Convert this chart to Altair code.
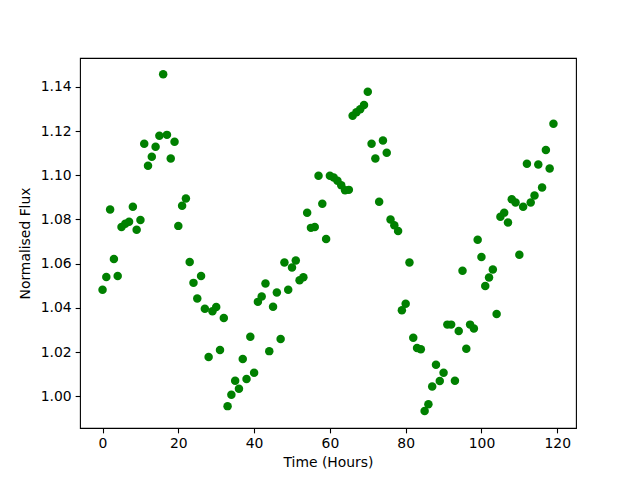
import altair as alt
import pandas as pd

hours = list(range(120))
flux = [
    1.0482, 1.0540, 1.0845, 1.0621, 1.0544, 1.0766, 1.0781, 1.0790, 1.0858, 1.0753,
    1.0798, 1.1143, 1.1043, 1.1084, 1.1129, 1.1179, 1.1457, 1.1183, 1.1076, 1.1152,
    1.0771, 1.0862, 1.0895, 1.0608, 1.0513, 1.0442, 1.0544, 1.0396, 1.0177, 1.0384,
    1.0404, 1.0209, 1.0354, 0.9955, 1.0006, 1.0070, 1.0034, 1.0168, 1.0078, 1.0269,
    1.0106, 1.0427, 1.0451, 1.0510, 1.0204, 1.0405, 1.0469, 1.0259, 1.0605, 1.0482,
    1.0583, 1.0614, 1.0525, 1.0538, 1.0830, 1.0762, 1.0766, 1.0998, 1.0871, 1.0712,
    1.0998, 1.0990, 1.0975, 1.0955, 1.0932, 1.0934, 1.1270, 1.1285, 1.1299, 1.1318,
    1.1378, 1.1143, 1.1076, 1.0880, 1.1158, 1.1102, 1.0800, 1.0774, 1.0748, 1.0389,
    1.0419, 1.0605, 1.0265, 1.0218, 1.0212, 0.9933, 0.9963, 1.0044, 1.0142, 1.0069,
    1.0106, 1.0324, 1.0324, 1.0070, 1.0295, 1.0568, 1.0215, 1.0324, 1.0306, 1.0708,
    1.0630, 1.0499, 1.0537, 1.0573, 1.0372, 1.0812, 1.0831, 1.0786, 1.0892, 1.0877,
    1.0640, 1.0858, 1.1052, 1.0877, 1.0908, 1.1049, 1.0945, 1.1115, 1.1031, 1.1233,
]
x_ticks = [0, 20, 40, 60, 80, 100, 120]
y_ticks = [1.00, 1.02, 1.04, 1.06, 1.08, 1.10, 1.12, 1.14]

df = pd.DataFrame({"hours": hours, "flux": flux})

FONT = "DejaVu Sans"

axis_common = dict(
    grid=False,
    domain=False,
    tickColor="black",
    tickSize=4.86,
    tickWidth=1.1,
    labelFont=FONT,
    labelFontSize=13.9,
    labelColor="black",
    labelPadding=4,
    titleFont=FONT,
    titleFontSize=13.9,
    titleFontWeight="normal",
    titleColor="black",
)

chart = alt.Chart(df).mark_circle(size=72, color="#008000", opacity=1).encode(
    x=alt.X(
        "hours:Q",
        title="Time (Hours)",
        scale=alt.Scale(domain=[-5.95, 124.95], nice=False, zero=False),
        axis=alt.Axis(values=x_ticks, format="d", titlePadding=5, **axis_common),
    ),
    y=alt.Y(
        "flux:Q",
        title="Normalised Flux",
        scale=alt.Scale(domain=[0.9856, 1.1531], nice=False, zero=False),
        axis=alt.Axis(values=y_ticks, format=".2f", titlePadding=8, **axis_common),
    ),
).properties(
    width=496,
    height=370,
    autosize="none",
    background="white",
    padding={"left": 72, "top": 50, "right": 56, "bottom": 45},
).configure_view(
    stroke="black",
    strokeWidth=1.1,
    strokeOpacity=1,
)

chart.save("out.html", embed_options={"renderer": "svg", "actions": False})
